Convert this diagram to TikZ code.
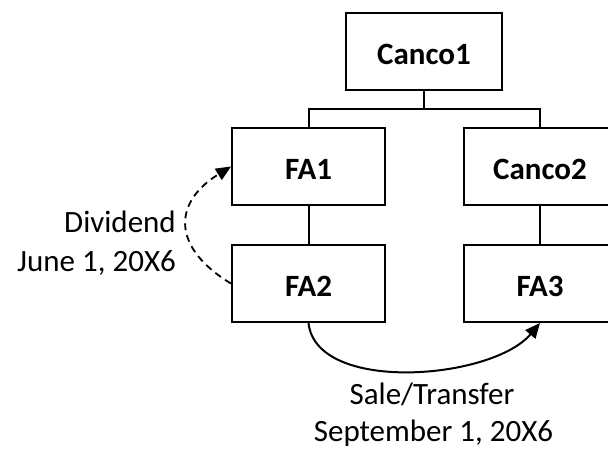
\documentclass[tikz,border=0pt]{standalone}
\usepackage{fontspec}
\setmainfont{Carlito}
\usetikzlibrary{arrows.meta}

\begin{document}
\begin{tikzpicture}[x=1pt,y=-1pt,
  entity/.style={draw, line width=2pt, minimum width=153pt, minimum height=77pt,
    inner sep=0pt, text height=26pt, text depth=0pt,
    font=\fontsize{31}{37}\selectfont\bfseries},
  link/.style={line width=2pt},
  lbl/.style={font=\fontsize{31}{37}\selectfont, inner sep=0pt},
  tip/.style={-{Triangle[length=15pt,width=13pt]}}
]
  \clip (0,0) rectangle (608,449);

  % ownership chart
  \node[entity, minimum width=156pt] (c1) at (424,51.5) {Canco1};
  \node[entity] (fa1) at (308.5,166.5) {FA1};
  \node[entity] (c2)  at (540,166.5)   {Canco2};
  \node[entity] (fa2) at (308.5,283.5) {FA2};
  \node[entity] (fa3) at (540,283.5)   {FA3};

  \coordinate (split) at (424,109);
  \draw[link] (c1.south) -- (split) -| (fa1.north);
  \draw[link] (split) -| (c2.north);
  \draw[link] (fa1.south) -- (fa2.north);
  \draw[line width=2.6pt] (c2.south) -- (fa3.north);

  % dividend from FA2 up to FA1
  \draw[line width=1.8pt, dash pattern=on 7pt off 5pt, tip]
    (fa2.west) .. controls (172,248) and (172,203) .. (fa1.west);
  \node[lbl, anchor=base east] (divA) at (176,233) {Dividend};
  \node[lbl, anchor=base east] (divB) at (176,272) {June 1, 20X6};

  % sale of FA2 shares to FA3
  \draw[link, tip]
    (fa2.south) .. controls (316,394) and (492,380) .. (fa3.south);
  \node[lbl, anchor=base] (saleA) at (432,404) {Sale/Transfer};
  \node[lbl, anchor=base] (saleB) at (433.5,441) {September 1, 20X6};
\end{tikzpicture}
\end{document}
